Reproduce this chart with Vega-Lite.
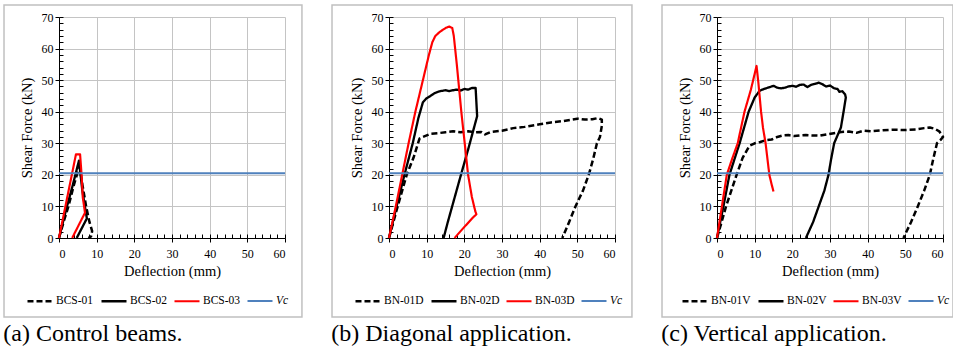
{
  "$schema": "https://vega.github.io/schema/vega-lite/v6.json",
  "padding": {"left": 3, "top": 4, "right": 0, "bottom": 0},
  "spacing": 28,
  "config": {
    "font": "Liberation Serif",
    "view": {"stroke": null},
    "axis": {
      "labelFont": "Liberation Serif", "labelFontSize": 12, "labelColor": "#000000",
      "titleFont": "Liberation Serif", "titleFontSize": 14.5, "titleFontWeight": "normal", "titleColor": "#000000",
      "domainColor": "#000000", "domainWidth": 1, "tickColor": "#000000", "tickWidth": 1,
      "gridColor": "#c4c4c4", "gridWidth": 1, "labelPadding": 2
    },
    "legend": {
      "orient": "none", "direction": "horizontal", "columns": 4, "title": null,
      "symbolType": "stroke", "symbolSize": 625, "labelOffset": 2, "columnPadding": 2,
      "labelFont": "Liberation Serif", "labelFontSize": 11.5, "labelColor": "#000000",
      "legendY": 270
    },
    "title": {"font": "Liberation Serif", "fontSize": 24, "fontWeight": "normal", "color": "#000000", "orient": "bottom", "anchor": "start", "offset": 4}
  },
  "datasets": {
    "a": [
      {"s": "BCS-01", "i": 0, "x": 0, "y": 0}, {"s": "BCS-01", "i": 1, "x": 1.2, "y": 5}, {"s": "BCS-01", "i": 2, "x": 2.5, "y": 10}, {"s": "BCS-01", "i": 3, "x": 4, "y": 17}, {"s": "BCS-01", "i": 4, "x": 5, "y": 21}, {"s": "BCS-01", "i": 5, "x": 5.5, "y": 22.5}, {"s": "BCS-01", "i": 6, "x": 6.2, "y": 17}, {"s": "BCS-01", "i": 7, "x": 7.2, "y": 10}, {"s": "BCS-01", "i": 8, "x": 8.1, "y": 5}, {"s": "BCS-01", "i": 9, "x": 8.8, "y": 2.2}, {"s": "BCS-01", "i": 10, "x": 8.5, "y": 0.5}, {"s": "BCS-01", "i": 11, "x": 7.8, "y": 0},
      {"s": "BCS-02", "i": 0, "x": 0, "y": 0}, {"s": "BCS-02", "i": 1, "x": 2, "y": 9.5}, {"s": "BCS-02", "i": 2, "x": 3.6, "y": 16.5}, {"s": "BCS-02", "i": 3, "x": 5.3, "y": 24.5}, {"s": "BCS-02", "i": 4, "x": 6.2, "y": 15}, {"s": "BCS-02", "i": 5, "x": 7.4, "y": 6.2}, {"s": "BCS-02", "i": 6, "x": 4.7, "y": 0},
      {"s": "BCS-03", "i": 0, "x": 0, "y": 0}, {"s": "BCS-03", "i": 1, "x": 1.7, "y": 10}, {"s": "BCS-03", "i": 2, "x": 3.4, "y": 20}, {"s": "BCS-03", "i": 3, "x": 4.5, "y": 26.5}, {"s": "BCS-03", "i": 4, "x": 5.6, "y": 26.5}, {"s": "BCS-03", "i": 5, "x": 6, "y": 20}, {"s": "BCS-03", "i": 6, "x": 6.3, "y": 13}, {"s": "BCS-03", "i": 7, "x": 6.9, "y": 8}, {"s": "BCS-03", "i": 8, "x": 5.2, "y": 4}, {"s": "BCS-03", "i": 9, "x": 3.5, "y": 0}
    ],
    "b": [
      {"s": "BN-01D", "i": 0, "x": 0, "y": 0}, {"s": "BN-01D", "i": 1, "x": 2.3, "y": 10}, {"s": "BN-01D", "i": 2, "x": 4.7, "y": 20}, {"s": "BN-01D", "i": 3, "x": 6.5, "y": 25.4}, {"s": "BN-01D", "i": 4, "x": 8.1, "y": 31.5}, {"s": "BN-01D", "i": 5, "x": 9, "y": 32}, {"s": "BN-01D", "i": 6, "x": 11, "y": 33}, {"s": "BN-01D", "i": 7, "x": 13, "y": 33.2}, {"s": "BN-01D", "i": 8, "x": 15, "y": 33.5}, {"s": "BN-01D", "i": 9, "x": 17, "y": 33.8}, {"s": "BN-01D", "i": 10, "x": 19, "y": 33.5}, {"s": "BN-01D", "i": 11, "x": 21, "y": 33.8}, {"s": "BN-01D", "i": 12, "x": 23, "y": 33.5}, {"s": "BN-01D", "i": 13, "x": 24.5, "y": 33.6}, {"s": "BN-01D", "i": 14, "x": 25.5, "y": 32.8}, {"s": "BN-01D", "i": 15, "x": 27, "y": 33.6}, {"s": "BN-01D", "i": 16, "x": 30, "y": 34}, {"s": "BN-01D", "i": 17, "x": 33, "y": 34.8}, {"s": "BN-01D", "i": 18, "x": 36, "y": 35.2}, {"s": "BN-01D", "i": 19, "x": 40, "y": 36}, {"s": "BN-01D", "i": 20, "x": 43, "y": 36.6}, {"s": "BN-01D", "i": 21, "x": 46, "y": 37}, {"s": "BN-01D", "i": 22, "x": 48, "y": 37.4}, {"s": "BN-01D", "i": 23, "x": 50, "y": 37.8}, {"s": "BN-01D", "i": 24, "x": 52, "y": 37.5}, {"s": "BN-01D", "i": 25, "x": 54, "y": 37.6}, {"s": "BN-01D", "i": 26, "x": 55.5, "y": 38}, {"s": "BN-01D", "i": 27, "x": 56.5, "y": 37.5}, {"s": "BN-01D", "i": 28, "x": 56.5, "y": 35.5}, {"s": "BN-01D", "i": 29, "x": 56, "y": 32}, {"s": "BN-01D", "i": 30, "x": 55.2, "y": 30}, {"s": "BN-01D", "i": 31, "x": 54.2, "y": 25}, {"s": "BN-01D", "i": 32, "x": 53.1, "y": 20.3}, {"s": "BN-01D", "i": 33, "x": 51.5, "y": 15}, {"s": "BN-01D", "i": 34, "x": 49.5, "y": 10}, {"s": "BN-01D", "i": 35, "x": 47.8, "y": 5}, {"s": "BN-01D", "i": 36, "x": 46, "y": 0},
      {"s": "BN-02D", "i": 0, "x": 0, "y": 0}, {"s": "BN-02D", "i": 1, "x": 2, "y": 10}, {"s": "BN-02D", "i": 2, "x": 4.1, "y": 20}, {"s": "BN-02D", "i": 3, "x": 6.3, "y": 30}, {"s": "BN-02D", "i": 4, "x": 7.8, "y": 38}, {"s": "BN-02D", "i": 5, "x": 9, "y": 43}, {"s": "BN-02D", "i": 6, "x": 10, "y": 44.3}, {"s": "BN-02D", "i": 7, "x": 11, "y": 45}, {"s": "BN-02D", "i": 8, "x": 12, "y": 45.8}, {"s": "BN-02D", "i": 9, "x": 13, "y": 46.3}, {"s": "BN-02D", "i": 10, "x": 14, "y": 46.6}, {"s": "BN-02D", "i": 11, "x": 15, "y": 46.8}, {"s": "BN-02D", "i": 12, "x": 16, "y": 46.5}, {"s": "BN-02D", "i": 13, "x": 17, "y": 46.8}, {"s": "BN-02D", "i": 14, "x": 18, "y": 47}, {"s": "BN-02D", "i": 15, "x": 19, "y": 46.7}, {"s": "BN-02D", "i": 16, "x": 20, "y": 47.2}, {"s": "BN-02D", "i": 17, "x": 21, "y": 47}, {"s": "BN-02D", "i": 18, "x": 22, "y": 47.5}, {"s": "BN-02D", "i": 19, "x": 23, "y": 47.5}, {"s": "BN-02D", "i": 20, "x": 23.2, "y": 43}, {"s": "BN-02D", "i": 21, "x": 23.4, "y": 38.6}, {"s": "BN-02D", "i": 22, "x": 21, "y": 28}, {"s": "BN-02D", "i": 23, "x": 19.1, "y": 20}, {"s": "BN-02D", "i": 24, "x": 17, "y": 11}, {"s": "BN-02D", "i": 25, "x": 15.6, "y": 5}, {"s": "BN-02D", "i": 26, "x": 14.5, "y": 0},
      {"s": "BN-03D", "i": 0, "x": 0, "y": 0}, {"s": "BN-03D", "i": 1, "x": 1.8, "y": 10}, {"s": "BN-03D", "i": 2, "x": 3.5, "y": 20}, {"s": "BN-03D", "i": 3, "x": 5.2, "y": 30}, {"s": "BN-03D", "i": 4, "x": 7, "y": 40}, {"s": "BN-03D", "i": 5, "x": 9, "y": 50}, {"s": "BN-03D", "i": 6, "x": 10.6, "y": 58}, {"s": "BN-03D", "i": 7, "x": 11.5, "y": 62}, {"s": "BN-03D", "i": 8, "x": 12.3, "y": 64}, {"s": "BN-03D", "i": 9, "x": 13.5, "y": 65.3}, {"s": "BN-03D", "i": 10, "x": 15, "y": 66.5}, {"s": "BN-03D", "i": 11, "x": 16, "y": 67}, {"s": "BN-03D", "i": 12, "x": 16.8, "y": 66.5}, {"s": "BN-03D", "i": 13, "x": 17.2, "y": 64}, {"s": "BN-03D", "i": 14, "x": 18, "y": 55}, {"s": "BN-03D", "i": 15, "x": 19.2, "y": 40}, {"s": "BN-03D", "i": 16, "x": 21, "y": 20}, {"s": "BN-03D", "i": 17, "x": 22, "y": 13}, {"s": "BN-03D", "i": 18, "x": 22.9, "y": 8.5}, {"s": "BN-03D", "i": 19, "x": 23.2, "y": 7.5}, {"s": "BN-03D", "i": 20, "x": 22.3, "y": 6.5}, {"s": "BN-03D", "i": 21, "x": 20, "y": 3.5}, {"s": "BN-03D", "i": 22, "x": 17.4, "y": 0}
    ],
    "c": [
      {"s": "BN-01V", "i": 0, "x": 0, "y": 0}, {"s": "BN-01V", "i": 1, "x": 2.4, "y": 10}, {"s": "BN-01V", "i": 2, "x": 5.2, "y": 20}, {"s": "BN-01V", "i": 3, "x": 6.8, "y": 25.4}, {"s": "BN-01V", "i": 4, "x": 8.6, "y": 29.2}, {"s": "BN-01V", "i": 5, "x": 10, "y": 30}, {"s": "BN-01V", "i": 6, "x": 11.5, "y": 30.4}, {"s": "BN-01V", "i": 7, "x": 13, "y": 31}, {"s": "BN-01V", "i": 8, "x": 14.5, "y": 31.2}, {"s": "BN-01V", "i": 9, "x": 16, "y": 32}, {"s": "BN-01V", "i": 10, "x": 17.5, "y": 32.5}, {"s": "BN-01V", "i": 11, "x": 19, "y": 32.6}, {"s": "BN-01V", "i": 12, "x": 20.5, "y": 32.3}, {"s": "BN-01V", "i": 13, "x": 22, "y": 32.5}, {"s": "BN-01V", "i": 14, "x": 23.6, "y": 32.6}, {"s": "BN-01V", "i": 15, "x": 25, "y": 32.5}, {"s": "BN-01V", "i": 16, "x": 27.3, "y": 32.4}, {"s": "BN-01V", "i": 17, "x": 29, "y": 32.8}, {"s": "BN-01V", "i": 18, "x": 31, "y": 33.2}, {"s": "BN-01V", "i": 19, "x": 33, "y": 33.6}, {"s": "BN-01V", "i": 20, "x": 35, "y": 33.7}, {"s": "BN-01V", "i": 21, "x": 37, "y": 33.3}, {"s": "BN-01V", "i": 22, "x": 39, "y": 34}, {"s": "BN-01V", "i": 23, "x": 41, "y": 33.8}, {"s": "BN-01V", "i": 24, "x": 44, "y": 34.1}, {"s": "BN-01V", "i": 25, "x": 47, "y": 34.3}, {"s": "BN-01V", "i": 26, "x": 50, "y": 34.2}, {"s": "BN-01V", "i": 27, "x": 52.9, "y": 34.4}, {"s": "BN-01V", "i": 28, "x": 55, "y": 34.8}, {"s": "BN-01V", "i": 29, "x": 56.5, "y": 35}, {"s": "BN-01V", "i": 30, "x": 57.8, "y": 34.6}, {"s": "BN-01V", "i": 31, "x": 59, "y": 33.8}, {"s": "BN-01V", "i": 32, "x": 60, "y": 32}, {"s": "BN-01V", "i": 33, "x": 59.3, "y": 31}, {"s": "BN-01V", "i": 34, "x": 58.4, "y": 30}, {"s": "BN-01V", "i": 35, "x": 57.4, "y": 25}, {"s": "BN-01V", "i": 36, "x": 56.5, "y": 20}, {"s": "BN-01V", "i": 37, "x": 55, "y": 15}, {"s": "BN-01V", "i": 38, "x": 53.3, "y": 10}, {"s": "BN-01V", "i": 39, "x": 51.5, "y": 5}, {"s": "BN-01V", "i": 40, "x": 49.5, "y": 0},
      {"s": "BN-02V", "i": 0, "x": 0, "y": 0}, {"s": "BN-02V", "i": 1, "x": 1.7, "y": 10}, {"s": "BN-02V", "i": 2, "x": 3.3, "y": 20}, {"s": "BN-02V", "i": 3, "x": 6, "y": 30}, {"s": "BN-02V", "i": 4, "x": 8.4, "y": 40}, {"s": "BN-02V", "i": 5, "x": 10, "y": 44.5}, {"s": "BN-02V", "i": 6, "x": 11.3, "y": 46.6}, {"s": "BN-02V", "i": 7, "x": 12, "y": 47}, {"s": "BN-02V", "i": 8, "x": 13, "y": 47.4}, {"s": "BN-02V", "i": 9, "x": 14, "y": 47.8}, {"s": "BN-02V", "i": 10, "x": 15, "y": 48.2}, {"s": "BN-02V", "i": 11, "x": 16, "y": 47.6}, {"s": "BN-02V", "i": 12, "x": 17, "y": 47.4}, {"s": "BN-02V", "i": 13, "x": 18, "y": 47.6}, {"s": "BN-02V", "i": 14, "x": 19, "y": 48}, {"s": "BN-02V", "i": 15, "x": 20, "y": 48.2}, {"s": "BN-02V", "i": 16, "x": 21, "y": 47.9}, {"s": "BN-02V", "i": 17, "x": 22, "y": 48.5}, {"s": "BN-02V", "i": 18, "x": 23, "y": 48.6}, {"s": "BN-02V", "i": 19, "x": 24, "y": 47.8}, {"s": "BN-02V", "i": 20, "x": 25, "y": 48.5}, {"s": "BN-02V", "i": 21, "x": 26, "y": 48.8}, {"s": "BN-02V", "i": 22, "x": 27, "y": 49.2}, {"s": "BN-02V", "i": 23, "x": 28, "y": 48.7}, {"s": "BN-02V", "i": 24, "x": 29, "y": 48}, {"s": "BN-02V", "i": 25, "x": 30, "y": 48.3}, {"s": "BN-02V", "i": 26, "x": 31, "y": 47.5}, {"s": "BN-02V", "i": 27, "x": 32, "y": 47.2}, {"s": "BN-02V", "i": 28, "x": 32.5, "y": 46.3}, {"s": "BN-02V", "i": 29, "x": 33.3, "y": 46.5}, {"s": "BN-02V", "i": 30, "x": 34, "y": 45.5}, {"s": "BN-02V", "i": 31, "x": 34.2, "y": 44.5}, {"s": "BN-02V", "i": 32, "x": 33.6, "y": 40}, {"s": "BN-02V", "i": 33, "x": 32.9, "y": 35}, {"s": "BN-02V", "i": 34, "x": 31.1, "y": 30}, {"s": "BN-02V", "i": 35, "x": 30.3, "y": 25}, {"s": "BN-02V", "i": 36, "x": 29.6, "y": 20}, {"s": "BN-02V", "i": 37, "x": 28.5, "y": 15}, {"s": "BN-02V", "i": 38, "x": 27, "y": 10}, {"s": "BN-02V", "i": 39, "x": 25.5, "y": 5}, {"s": "BN-02V", "i": 40, "x": 23.6, "y": 0},
      {"s": "BN-03V", "i": 0, "x": 0, "y": 0}, {"s": "BN-03V", "i": 1, "x": 1.3, "y": 10}, {"s": "BN-03V", "i": 2, "x": 2.6, "y": 20}, {"s": "BN-03V", "i": 3, "x": 4, "y": 25}, {"s": "BN-03V", "i": 4, "x": 5.5, "y": 30}, {"s": "BN-03V", "i": 5, "x": 7.3, "y": 40}, {"s": "BN-03V", "i": 6, "x": 9, "y": 47}, {"s": "BN-03V", "i": 7, "x": 10.5, "y": 54.5}, {"s": "BN-03V", "i": 8, "x": 11, "y": 49}, {"s": "BN-03V", "i": 9, "x": 11.7, "y": 40}, {"s": "BN-03V", "i": 10, "x": 12.2, "y": 35}, {"s": "BN-03V", "i": 11, "x": 12.9, "y": 30}, {"s": "BN-03V", "i": 12, "x": 13.9, "y": 20}, {"s": "BN-03V", "i": 13, "x": 14.5, "y": 17}, {"s": "BN-03V", "i": 14, "x": 15, "y": 14.7}
    ],
    "vc": [{"s": "Vc", "v": 20.5}]
  },
  "resolve": {
    "scale": {"color": "independent", "strokeDash": "independent", "strokeWidth": "independent"},
    "legend": {"color": "independent", "strokeDash": "independent", "strokeWidth": "independent"}
  },
  "hconcat": [
    {
      "title": "(a) Control beams.",
      "width": 226, "height": 221,
      "resolve": {"scale": {"x": "independent", "y": "independent"}, "axis": {"x": "independent", "y": "independent"}},
      "layer": [
        {"data": {"name": "a"}, "mark": {"type": "line", "strokeJoin": "round"},
         "encoding": {
           "x": {"field": "x", "type": "quantitative", "scale": {"domain": [0, 60], "nice": false}, "title": "Deflection (mm)",
             "axis": {"orient": "bottom", "grid": true, "values": [0, 10, 20, 30, 40, 50, 60], "tickSize": 4, "labelPadding": 6, "titlePadding": 5}},
           "y": {"field": "y", "type": "quantitative", "scale": {"domain": [0, 70], "nice": false}, "title": "Shear Force (kN)",
             "axis": {"orient": "left", "grid": true, "values": [0, 10, 20, 30, 40, 50, 60, 70], "tickSize": 4, "titlePadding": 7}},
           "order": {"field": "i", "type": "quantitative"},
           "color": {"field": "s", "type": "nominal", "scale": {"domain": ["BCS-01", "BCS-02", "BCS-03", "Vc"], "range": ["#000000", "#000000", "#ff0000", "#4f81bd"]}, "legend": {"legendX": -33, "encode": {"labels": {"update": {"fontStyle": {"signal": "datum.label === 'Vc' ? 'italic' : 'normal'"}}}}}},
           "strokeDash": {"field": "s", "type": "nominal", "scale": {"domain": ["BCS-01", "BCS-02", "BCS-03", "Vc"], "range": [[6, 3], [1, 0], [1, 0], [1, 0]]}, "legend": {"legendX": -33}},
           "strokeWidth": {"field": "s", "type": "nominal", "scale": {"domain": ["BCS-01", "BCS-02", "BCS-03", "Vc"], "range": [2.5, 2, 4.5, 3]}, "legend": {"legendX": -33}}
         }},
        {"data": {"name": "vc"}, "mark": {"type": "rule"},
         "encoding": {"y": {"field": "v", "type": "quantitative", "scale": {"domain": [0, 70], "nice": false}, "axis": null}, "color": {"field": "s", "type": "nominal"}, "strokeDash": {"field": "s", "type": "nominal"}, "strokeWidth": {"field": "s", "type": "nominal"}}},
        {"data": {"values": [{}]}, "mark": {"type": "rect", "filled": false, "stroke": "#c0c0c0", "strokeWidth": 1.5},
         "encoding": {
           "x": {"datum": -14.6, "type": "quantitative", "scale": {"domain": [0, 60], "nice": false}, "axis": {"orient": "bottom", "values": [0,2,4,6,8,10,12,14,16,18,20,22,24,26,28,30,32,34,36,38,40,42,44,46,48,50,52,54,56,58,60], "labels": false, "domain": false, "grid": false, "tickSize": -4, "title": null}},
           "x2": {"datum": 64.5},
           "y": {"datum": 73.8, "type": "quantitative", "scale": {"domain": [0, 70], "nice": false}, "axis": {"orient": "left", "values": [0,2,4,6,8,10,12,14,16,18,20,22,24,26,28,30,32,34,36,38,40,42,44,46,48,50,52,54,56,58,60,62,64,66,68,70], "labels": false, "domain": false, "grid": false, "tickSize": -4, "title": null}},
           "y2": {"datum": -25.02}}}
      ]
    },
    {
      "title": "(b) Diagonal application.",
      "width": 226, "height": 221,
      "resolve": {"scale": {"x": "independent", "y": "independent"}, "axis": {"x": "independent", "y": "independent"}},
      "layer": [
        {"data": {"name": "b"}, "mark": {"type": "line", "strokeJoin": "round"},
         "encoding": {
           "x": {"field": "x", "type": "quantitative", "scale": {"domain": [0, 60], "nice": false}, "title": "Deflection (mm)",
             "axis": {"orient": "bottom", "grid": true, "values": [0, 10, 20, 30, 40, 50, 60], "tickSize": 4, "labelPadding": 6, "titlePadding": 5}},
           "y": {"field": "y", "type": "quantitative", "scale": {"domain": [0, 70], "nice": false}, "title": "Shear Force (kN)",
             "axis": {"orient": "left", "grid": true, "values": [0, 10, 20, 30, 40, 50, 60, 70], "tickSize": 4, "titlePadding": 7}},
           "order": {"field": "i", "type": "quantitative"},
           "color": {"field": "s", "type": "nominal", "scale": {"domain": ["BN-01D", "BN-02D", "BN-03D", "Vc"], "range": ["#000000", "#000000", "#ff0000", "#4f81bd"]}, "legend": {"legendX": -35, "encode": {"labels": {"update": {"fontStyle": {"signal": "datum.label === 'Vc' ? 'italic' : 'normal'"}}}}}},
           "strokeDash": {"field": "s", "type": "nominal", "scale": {"domain": ["BN-01D", "BN-02D", "BN-03D", "Vc"], "range": [[6, 3], [1, 0], [1, 0], [1, 0]]}, "legend": {"legendX": -35}},
           "strokeWidth": {"field": "s", "type": "nominal", "scale": {"domain": ["BN-01D", "BN-02D", "BN-03D", "Vc"], "range": [2.5, 2, 4.5, 3]}, "legend": {"legendX": -35}}
         }},
        {"data": {"name": "vc"}, "mark": {"type": "rule"},
         "encoding": {"y": {"field": "v", "type": "quantitative", "scale": {"domain": [0, 70], "nice": false}, "axis": null}, "color": {"field": "s", "type": "nominal"}, "strokeDash": {"field": "s", "type": "nominal"}, "strokeWidth": {"field": "s", "type": "nominal"}}},
        {"data": {"values": [{}]}, "mark": {"type": "rect", "filled": false, "stroke": "#c0c0c0", "strokeWidth": 1.5},
         "encoding": {
           "x": {"datum": -15.13, "type": "quantitative", "scale": {"domain": [0, 60], "nice": false}, "axis": {"orient": "bottom", "values": [0,2,4,6,8,10,12,14,16,18,20,22,24,26,28,30,32,34,36,38,40,42,44,46,48,50,52,54,56,58,60], "labels": false, "domain": false, "grid": false, "tickSize": -4, "title": null}},
           "x2": {"datum": 64.5},
           "y": {"datum": 73.8, "type": "quantitative", "scale": {"domain": [0, 70], "nice": false}, "axis": {"orient": "left", "values": [0,2,4,6,8,10,12,14,16,18,20,22,24,26,28,30,32,34,36,38,40,42,44,46,48,50,52,54,56,58,60,62,64,66,68,70], "labels": false, "domain": false, "grid": false, "tickSize": -4, "title": null}},
           "y2": {"datum": -25.02}}}
      ]
    },
    {
      "title": "(c) Vertical application.",
      "width": 226, "height": 221,
      "resolve": {"scale": {"x": "independent", "y": "independent"}, "axis": {"x": "independent", "y": "independent"}},
      "layer": [
        {"data": {"name": "c"}, "mark": {"type": "line", "strokeJoin": "round"},
         "encoding": {
           "x": {"field": "x", "type": "quantitative", "scale": {"domain": [0, 60], "nice": false}, "title": "Deflection (mm)",
             "axis": {"orient": "bottom", "grid": true, "values": [0, 10, 20, 30, 40, 50, 60], "tickSize": 4, "labelPadding": 6, "titlePadding": 5}},
           "y": {"field": "y", "type": "quantitative", "scale": {"domain": [0, 70], "nice": false}, "title": "Shear Force (kN)",
             "axis": {"orient": "left", "grid": true, "values": [0, 10, 20, 30, 40, 50, 60, 70], "tickSize": 4, "titlePadding": 7}},
           "order": {"field": "i", "type": "quantitative"},
           "color": {"field": "s", "type": "nominal", "scale": {"domain": ["BN-01V", "BN-02V", "BN-03V", "Vc"], "range": ["#000000", "#000000", "#ff0000", "#4f81bd"]}, "legend": {"legendX": -36, "encode": {"labels": {"update": {"fontStyle": {"signal": "datum.label === 'Vc' ? 'italic' : 'normal'"}}}}}},
           "strokeDash": {"field": "s", "type": "nominal", "scale": {"domain": ["BN-01V", "BN-02V", "BN-03V", "Vc"], "range": [[6, 3], [1, 0], [1, 0], [1, 0]]}, "legend": {"legendX": -36}},
           "strokeWidth": {"field": "s", "type": "nominal", "scale": {"domain": ["BN-01V", "BN-02V", "BN-03V", "Vc"], "range": [2.5, 2, 4.5, 3]}, "legend": {"legendX": -36}}
         }},
        {"data": {"name": "vc"}, "mark": {"type": "rule"},
         "encoding": {"y": {"field": "v", "type": "quantitative", "scale": {"domain": [0, 70], "nice": false}, "axis": null}, "color": {"field": "s", "type": "nominal"}, "strokeDash": {"field": "s", "type": "nominal"}, "strokeWidth": {"field": "s", "type": "nominal"}}},
        {"data": {"values": [{}]}, "mark": {"type": "rect", "filled": false, "stroke": "#c0c0c0", "strokeWidth": 1.5},
         "encoding": {
           "x": {"datum": -14.6, "type": "quantitative", "scale": {"domain": [0, 60], "nice": false}, "axis": {"orient": "bottom", "values": [0,2,4,6,8,10,12,14,16,18,20,22,24,26,28,30,32,34,36,38,40,42,44,46,48,50,52,54,56,58,60], "labels": false, "domain": false, "grid": false, "tickSize": -4, "title": null}},
           "x2": {"datum": 62.65},
           "y": {"datum": 73.8, "type": "quantitative", "scale": {"domain": [0, 70], "nice": false}, "axis": {"orient": "left", "values": [0,2,4,6,8,10,12,14,16,18,20,22,24,26,28,30,32,34,36,38,40,42,44,46,48,50,52,54,56,58,60,62,64,66,68,70], "labels": false, "domain": false, "grid": false, "tickSize": -4, "title": null}},
           "y2": {"datum": -25.02}}}
      ]
    }
  ]
}
